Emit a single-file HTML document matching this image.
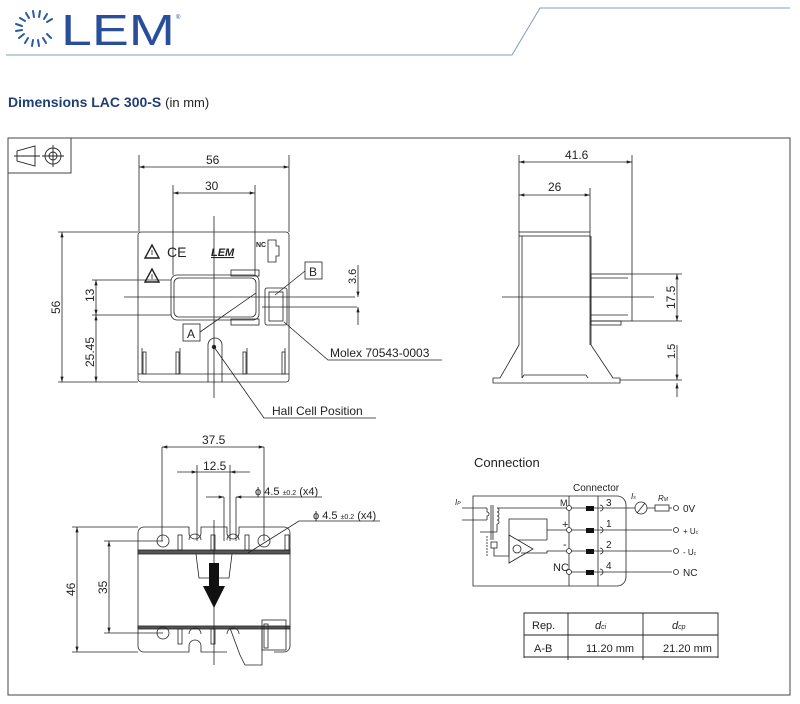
<!DOCTYPE html>
<html><head><meta charset="utf-8"><style>
html,body{margin:0;padding:0;background:#fff;}
svg{display:block;}
text{font-family:"Liberation Sans",sans-serif;}
.d{font-family:"DejaVu Sans","Liberation Sans",sans-serif;font-size:11px;fill:#222;}
</style></head><body>
<svg width="800" height="704" viewBox="0 0 800 704" xmlns="http://www.w3.org/2000/svg">
<defs>
<marker id="a" viewBox="0 0 10 6" refX="10" refY="3" markerWidth="8" markerHeight="4" orient="auto-start-reverse"><path d="M0,0 L10,3 L0,6z" fill="#222"/></marker>
</defs>
<!-- header -->
<g stroke="#2a5aa0" stroke-width="2" stroke-linecap="round">
<line x1="33" y1="11" x2="34" y2="17"/><line x1="26" y1="13" x2="29" y2="18"/><line x1="20" y1="18" x2="25" y2="21"/><line x1="16" y1="24" x2="22" y2="26"/><line x1="16" y1="31" x2="22" y2="30"/><line x1="19" y1="38" x2="24" y2="34"/><line x1="25" y1="43" x2="28" y2="38"/><line x1="32" y1="46" x2="33" y2="40"/><line x1="39" y1="46" x2="38" y2="40"/><line x1="46" y1="43" x2="43" y2="38"/><line x1="51" y1="38" x2="47" y2="34"/><line x1="40" y1="11" x2="39" y2="17"/><line x1="47" y1="14" x2="44" y2="19"/><line x1="52" y1="19" x2="47" y2="22"/>
</g>
<text x="61" y="45" font-size="44" fill="#2a4f9a" textLength="114" lengthAdjust="spacingAndGlyphs">LEM</text>
<text x="176" y="19" font-size="6" fill="#2a4f9a">®</text>
<polyline points="6,55 512,55 540,8 790,8" fill="none" stroke="#7f9cc0" stroke-width="1"/>
<text x="8" y="107" font-size="14" font-weight="bold" fill="#1f3f73">Dimensions LAC 300-S <tspan font-weight="normal" font-size="13" fill="#222">(in mm)</tspan></text>
<!-- frame -->
<rect x="8" y="138" width="782" height="557" fill="none" stroke="#444" stroke-width="1"/>
<rect x="8" y="138" width="63" height="35" fill="none" stroke="#444" stroke-width="1"/>
<g stroke="#222" fill="none" stroke-width="0.9">
<path d="M17,151 L17,161 L35,166 L35,146 Z"/><line x1="14" y1="156" x2="40" y2="156"/>
<circle cx="53" cy="156" r="8"/><circle cx="53" cy="156" r="4"/><line x1="42" y1="156" x2="64" y2="156"/><line x1="53" y1="145" x2="53" y2="167"/>
</g>
<!-- FRONT VIEW -->
<g stroke="#222" fill="none" stroke-width="0.8">
<rect x="138" y="232" width="151" height="150" rx="3"/>
<line x1="138" y1="374" x2="289" y2="374"/>
<rect x="171" y="275" width="88" height="45" rx="6"/>
<rect x="174" y="278" width="82" height="39" rx="5"/>
<rect x="231" y="270" width="28" height="6"/><rect x="231" y="319" width="28" height="6"/>
<rect x="265" y="288" width="22" height="37" rx="2"/>
<rect x="269" y="292" width="14" height="29"/>
<path d="M208,382 L208,345 A7,7 0 0 1 222,345 L222,382"/>
<line x1="142" y1="348" x2="142" y2="374"/><line x1="180" y1="348" x2="180" y2="374"/><line x1="247" y1="348" x2="247" y2="374"/><line x1="285" y1="348" x2="285" y2="374"/>
<rect x="143" y="352" width="3" height="22"/><rect x="176" y="352" width="3" height="22"/><rect x="243" y="352" width="3" height="22"/><rect x="282" y="352" width="3" height="22"/>
<path d="M268,240 L276,240 L276,246 L279,246 L279,256 L276,256 L276,262 L268,262 Z"/>
<path d="M145,258 L152,245 L159,258 Z" stroke-width="1.4"/><path d="M145,282 L152,269 L159,282 Z" stroke-width="1.4"/>
<line x1="152" y1="250" x2="152" y2="255"/><line x1="152" y1="274" x2="152" y2="279"/>
<line x1="214" y1="216" x2="214" y2="398"/>
<line x1="124" y1="297" x2="355" y2="297"/>
<line x1="262" y1="307" x2="357" y2="307"/>
<line x1="139" y1="155" x2="139" y2="232"/><line x1="289" y1="155" x2="289" y2="232"/>
<line x1="139" y1="167" x2="289" y2="167" marker-start="url(#a)" marker-end="url(#a)"/>
<line x1="173" y1="185" x2="173" y2="275"/><line x1="255" y1="185" x2="255" y2="275"/>
<line x1="173" y1="193" x2="255" y2="193" marker-start="url(#a)" marker-end="url(#a)"/>
<line x1="58" y1="232" x2="138" y2="232"/><line x1="58" y1="382" x2="138" y2="382"/>
<line x1="62" y1="232" x2="62" y2="382" marker-start="url(#a)" marker-end="url(#a)"/>
<line x1="92" y1="280" x2="171" y2="280"/><line x1="92" y1="315" x2="171" y2="315"/>
<line x1="96" y1="280" x2="96" y2="315" marker-start="url(#a)" marker-end="url(#a)"/>
<line x1="96" y1="315" x2="96" y2="382" marker-start="url(#a)" marker-end="url(#a)"/>
<line x1="358" y1="265" x2="358" y2="297" marker-end="url(#a)"/><line x1="358" y1="325" x2="358" y2="307" marker-end="url(#a)"/>
<polyline points="200,332 256,293"/>
<rect x="183" y="324" width="17" height="17"/>
<polyline points="305,271 275,295"/>
<rect x="305" y="262" width="17" height="17"/>
<polyline points="284,322 328,360 442,360"/>
<polyline points="214,347 264,418 376,418"/>
</g>
<circle cx="214" cy="347" r="2.2" fill="#222"/>
<g class="d">
<text x="206" y="164" font-size="12">56</text>
<text x="205" y="190" font-size="12">30</text>
<text x="187" y="338" font-size="12">A</text>
<text x="309" y="276" font-size="12">B</text>
<text x="330" y="357" font-size="12">Molex 70543-0003</text>
<text x="272" y="415" font-size="12">Hall Cell Position</text>
<text transform="translate(60,314) rotate(-90)" font-size="12">56</text>
<text transform="translate(94,302) rotate(-90)" font-size="12">13</text>
<text transform="translate(94,367) rotate(-90)" font-size="12">25.45</text>
<text transform="translate(356,284) rotate(-90)" font-size="11">3.6</text>
<text x="167" y="257" font-size="14">CE</text>
<text x="211" y="256" font-size="11" font-weight="bold" font-style="italic" text-decoration="underline">LEM</text>
<text x="256" y="247" font-size="7" font-weight="bold">NC</text>
</g>
<!-- SIDE VIEW -->
<g stroke="#222" fill="none" stroke-width="0.8">
<line x1="519" y1="155" x2="519" y2="232"/><line x1="632" y1="155" x2="632" y2="274"/>
<line x1="519" y1="162" x2="632" y2="162" marker-start="url(#a)" marker-end="url(#a)"/>
<line x1="590" y1="188" x2="590" y2="232"/>
<line x1="519" y1="195" x2="590" y2="195" marker-start="url(#a)" marker-end="url(#a)"/>
<rect x="519" y="232" width="71" height="4"/>
<line x1="519" y1="236" x2="519" y2="345"/><line x1="522" y1="236" x2="522" y2="378"/>
<line x1="590" y1="236" x2="590" y2="345"/><line x1="591" y1="236" x2="591" y2="345"/>
<path d="M519,345 L500,378 L493,378 L493,383 L620,383 L620,378 L613,378 L591,345"/>
<path d="M522,378 L524,375 L586,375 L588,378"/>
<rect x="591" y="274" width="41" height="47"/>
<line x1="591" y1="278" x2="628" y2="278"/><line x1="591" y1="315" x2="628" y2="315"/>
<rect x="591" y="321" width="30" height="4"/>
<line x1="502" y1="297" x2="654" y2="297"/>
<line x1="632" y1="274" x2="682" y2="274"/><line x1="632" y1="321" x2="682" y2="321"/>
<line x1="677" y1="274" x2="677" y2="321" marker-start="url(#a)" marker-end="url(#a)"/>
<line x1="620" y1="380" x2="682" y2="380"/>
<line x1="677" y1="345" x2="677" y2="380" marker-end="url(#a)"/><line x1="677" y1="397" x2="677" y2="383" marker-end="url(#a)"/>
</g>
<g class="d">
<text x="565" y="159" font-size="12">41.6</text>
<text x="548" y="191" font-size="12">26</text>
<text transform="translate(675,309) rotate(-90)" font-size="12">17.5</text>
<text transform="translate(675,359) rotate(-90)" font-size="11">1.5</text>
</g>
<!-- BOTTOM VIEW -->
<g stroke="#222" fill="none" stroke-width="0.8">
<path d="M138,533 A6,6 0 0 1 144,527 L189,527 L189,533 A6,6 0 0 0 201,533 L201,527 L227,527 L227,533 A6,6 0 0 0 239,533 L239,527 L284,527 A6,6 0 0 1 290,533 L290,646 A6,6 0 0 1 284,652 L274,652"/>
<path d="M138,533 L138,646 A6,6 0 0 0 144,652 L189,652 L189,646 A6,6 0 0 1 201,646 L201,652 L227,652"/>
<rect x="138" y="550" width="152" height="4" fill="#555"/>
<rect x="138" y="626" width="152" height="3" fill="#555"/>
<circle cx="163" cy="541" r="6"/><circle cx="264" cy="541" r="6"/><circle cx="163" cy="633" r="6"/>
<path d="M189,540 A6,6 0 0 1 201,540"/><path d="M227,540 A6,6 0 0 1 239,540"/>
<path d="M189,634 A6,6 0 0 1 201,634"/><path d="M227,634 A6,6 0 0 1 239,634"/>
<rect x="178" y="535" width="4" height="15"/><rect x="211" y="535" width="4" height="15"/><rect x="245" y="535" width="4" height="15"/>
<rect x="178" y="629" width="4" height="15"/><rect x="211" y="629" width="4" height="15"/><rect x="285" y="535" width="4" height="15"/>
<path d="M196,554 L199,578 L229,578 L232,554"/>
<path d="M230,628 L240,655 L245,665 L262,665 L262,629"/>
<rect x="262" y="620" width="24" height="30"/><rect x="264" y="624" width="4" height="24"/>
<line x1="214" y1="520" x2="214" y2="665"/>
<line x1="162" y1="447" x2="162" y2="541"/><line x1="264" y1="447" x2="264" y2="541"/>
<line x1="162" y1="447" x2="264" y2="447" marker-start="url(#a)" marker-end="url(#a)"/>
<line x1="197" y1="465" x2="197" y2="541"/><line x1="230" y1="465" x2="230" y2="541"/>
<line x1="177" y1="472" x2="197" y2="472" marker-end="url(#a)"/><line x1="250" y1="472" x2="230" y2="472" marker-end="url(#a)"/>
<line x1="197" y1="472" x2="230" y2="472"/>
<line x1="224" y1="497" x2="224" y2="541"/><line x1="236" y1="497" x2="236" y2="541"/>
<line x1="206" y1="497" x2="224" y2="497" marker-end="url(#a)"/><line x1="254" y1="497" x2="236" y2="497" marker-end="url(#a)"/>
<line x1="254" y1="497" x2="322" y2="497"/>
<polyline points="248,553 299,521 380,521"/>
<line x1="72" y1="527" x2="138" y2="527"/><line x1="72" y1="652" x2="138" y2="652"/>
<line x1="77" y1="527" x2="77" y2="652" marker-start="url(#a)" marker-end="url(#a)"/>
<line x1="104" y1="541" x2="163" y2="541"/><line x1="104" y1="633" x2="163" y2="633"/>
<line x1="109" y1="541" x2="109" y2="633" marker-start="url(#a)" marker-end="url(#a)"/>
</g>
<path d="M209,563 L219,563 L219,586 L225,586 L214,608 L203,586 L209,586 Z" fill="#111"/>
<g class="d">
<text x="202" y="444" font-size="12">37.5</text>
<text x="203" y="470" font-size="12">12.5</text>
<text x="255" y="495" font-size="11">ϕ 4.5 <tspan font-size="7">±0.2</tspan> (x4)</text>
<text x="313" y="519" font-size="11">ϕ 4.5 <tspan font-size="7">±0.2</tspan> (x4)</text>
<text transform="translate(75,596) rotate(-90)" font-size="12">46</text>
<text transform="translate(107,594) rotate(-90)" font-size="12">35</text>
</g>
<!-- CONNECTION -->
<text x="474" y="467" font-size="13" fill="#222">Connection</text>
<g stroke="#222" fill="none" stroke-width="0.8">
<path d="M473,496 L617,496 A9,9 0 0 1 626,505 L626,577 A9,9 0 0 1 617,586 L473,586 Z"/>
<line x1="569" y1="496" x2="569" y2="586"/><line x1="598" y1="496" x2="598" y2="586"/>
<line x1="462" y1="508" x2="487" y2="508"/><line x1="462" y1="520" x2="487" y2="520"/>
<path d="M487,508 L487,512 A2,2 0 0 1 487,516 L487,520"/>
<line x1="491" y1="505" x2="491" y2="540"/><line x1="493" y1="505" x2="493" y2="540"/>
<path d="M497,508 A2,2 0 0 1 497,512 A2,2 0 0 1 497,516 A2,2 0 0 1 497,520 A2,2 0 0 1 497,524"/>
<line x1="497" y1="508" x2="569" y2="508"/><line x1="497" y1="524" x2="497" y2="532"/><line x1="497" y1="532" x2="480" y2="532"/>
<polyline points="509,555 509,519 547,519 547,530 569,530"/>
<polyline points="547,540 518,540"/><line x1="547" y1="530" x2="547" y2="540"/>
<polyline points="521,553 547,553 547,551 569,551"/>
<path d="M509,535 L509,563 L533,549 Z"/><circle cx="517" cy="549" r="4"/>
<rect x="491" y="542" width="6" height="6"/>
<polyline points="494,548 494,556 509,556"/>
<line x1="487" y1="536" x2="487" y2="556" stroke-dasharray="2,1"/>
<line x1="569" y1="508" x2="672" y2="508"/><line x1="569" y1="530" x2="672" y2="530"/>
<line x1="569" y1="551" x2="672" y2="551"/><line x1="569" y1="572" x2="672" y2="572"/>
<circle cx="641" cy="508" r="6" fill="#fff"/><line x1="637" y1="513" x2="645" y2="503"/>
<rect x="655" y="505" width="14" height="6" fill="#fff"/>
<circle cx="676" cy="508" r="2.5" fill="#fff"/><circle cx="676" cy="530" r="2.5" fill="#fff"/><circle cx="676" cy="551" r="2.5" fill="#fff"/><circle cx="676" cy="572" r="2.5" fill="#fff"/>
<circle cx="569" cy="508" r="2.5" fill="#fff"/><circle cx="569" cy="530" r="2.5" fill="#fff"/><circle cx="569" cy="551" r="2.5" fill="#fff"/><circle cx="569" cy="572" r="2.5" fill="#fff"/>
<path d="M600,505 A3,3 0 0 1 600,511"/><path d="M600,527 A3,3 0 0 1 600,533"/><path d="M600,548 A3,3 0 0 1 600,554"/><path d="M600,569 A3,3 0 0 1 600,575"/>
</g>
<g fill="#111"><rect x="586" y="506" width="8" height="5"/><rect x="586" y="528" width="8" height="5"/><rect x="586" y="549" width="8" height="5"/><rect x="586" y="570" width="8" height="5"/></g>
<g class="d" font-size="9">
<text x="573" y="491" font-size="10">Connector</text>
<text x="560" y="506" font-size="9">M</text><text x="562" y="528">+</text><text x="563" y="548">-</text><text x="553" y="571">NC</text>
<text x="606" y="506" font-size="10">3</text><text x="606" y="527" font-size="10">1</text><text x="606" y="548" font-size="10">2</text><text x="606" y="569" font-size="10">4</text>
<text x="683" y="512" font-size="10">0V</text><text x="683" y="534" font-size="8">+ U<tspan font-size="5">c</tspan></text><text x="683" y="555" font-size="8">- U<tspan font-size="5">c</tspan></text><text x="683" y="576" font-size="10">NC</text>
<text x="631" y="499" font-size="8" font-style="italic">I<tspan font-size="5">s</tspan></text>
<text x="658" y="501" font-size="8" font-style="italic">R<tspan font-size="5">M</tspan></text>
<text x="455" y="505" font-size="8" font-style="italic">I<tspan font-size="5">P</tspan></text>
</g>
<g stroke="#222" fill="none" stroke-width="0.9">
<path d="M524,658 L524,613 L718,613 L718,658"/>
<line x1="524" y1="635" x2="718" y2="635"/><line x1="524" y1="657" x2="718" y2="657"/>
<line x1="568" y1="613" x2="568" y2="660"/><line x1="643" y1="613" x2="643" y2="660"/>
</g>
<g class="d" font-size="12">
<text x="532" y="629">Rep.</text><text x="534" y="652">A-B</text>
<text x="595" y="629" font-style="italic">d<tspan font-size="7">ci</tspan></text>
<text x="672" y="629" font-style="italic">d<tspan font-size="7">cp</tspan></text>
<text x="586" y="652" font-size="11">11.20 mm</text><text x="663" y="652" font-size="11">21.20 mm</text>
</g>
</svg>
</body></html>
